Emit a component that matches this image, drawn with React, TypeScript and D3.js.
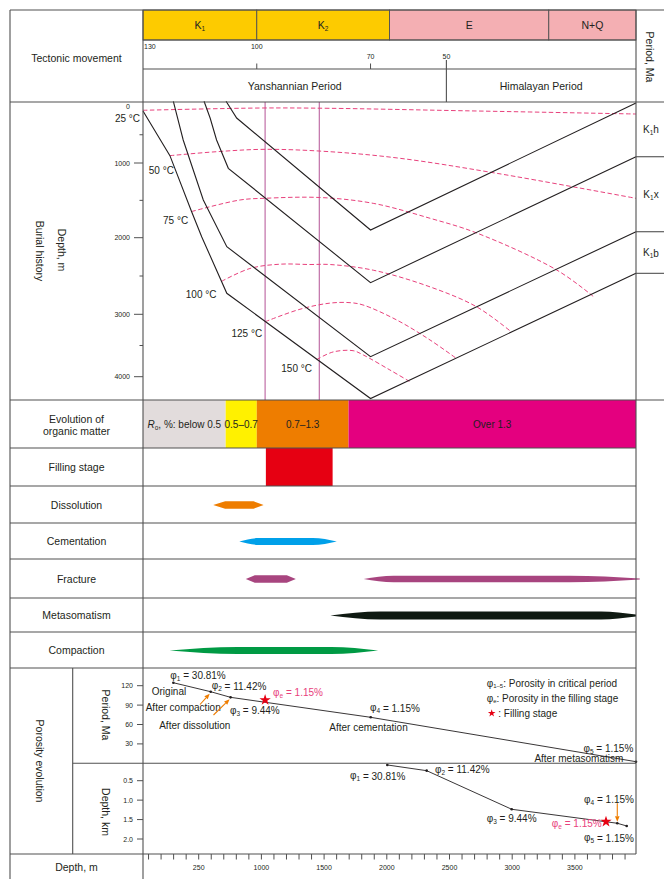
import React from "react";
import * as d3 from "d3";

// ---------------- data ----------------
// Geological periods on the top time bar (Ma)
const eraNames = ["K", "K", "E", "N+Q"];
const eraSubs = ["1", "2", "", ""];
const eraBounds = [130, 100, 65, 23, 0];
const eraColors = ["#fdcb00", "#fdcb00", "#f4afb3", "#f4afb3"];

const timeTicks = [130, 100, 70, 50];

const tectonicNames = ["Yanshannian Period", "Himalayan Period"];
const tectonicBounds = [130, 50, 0];

// Burial-history depth axis (m)
const depthMajorTicks = [0, 1000, 2000, 3000, 4000];
const depthMinorTicks = [500, 1500, 2500, 3500];

// Burial paths of formation boundaries: [age Ma, depth m]
const topK1h = [[108.1, -92], [105.3, 204], [70, 1897], [0, -62]];
const topK1x = [[113.9, -92], [112.3, 204], [110.6, 593], [107.5, 1071], [70, 2587], [0, 889]];
const topK1b = [[122, -92], [119.4, 593], [114.1, 1495], [107.9, 2117], [70, 3680], [0, 1920]];
const baseK1b = [[130, 80], [122.9, 870], [117.2, 1650], [114.5, 1990], [107.9, 2726], [70, 4350], [0, 2465]];
const burialLines = [topK1h, topK1x, topK1b, baseK1b];

const formationNames = ["h", "x", "b"];

// Isotherms: [age Ma, depth m]
const isoLabels = ["25 °C", "50 °C", "75 °C", "100 °C", "125 °C", "150 °C"];
const iso25 = [[130, 67], [99.2, 27], [80.7, 32], [49, 71], [28, 97], [0, 133]];
const iso50 = [[122.9, 870], [110.6, 800], [97.8, 758], [80.7, 800], [62.2, 917], [36.7, 1138], [0, 1473]];
const iso75 = [[117.2, 1650], [104.4, 1495], [97.8, 1472], [83.3, 1462], [69.3, 1540], [54.3, 1740], [42, 1937], [20.9, 2422], [11.3, 2765]];
const iso100 = [[109.3, 2570], [101.8, 2402], [93.9, 2346], [86, 2350], [80.7, 2350], [69.3, 2424], [54.3, 2642], [42, 2903], [32.8, 3285]];
const iso125 = [[97.8, 3119], [88.6, 2934], [80.7, 2854], [75.4, 2848], [72, 2878], [63.1, 3091], [54.3, 3412], [47.3, 3710]];
const iso150 = [[84.2, 3725], [79.9, 3604], [74.6, 3583], [71.9, 3652], [64.9, 3892], [59.6, 4080]];
const isotherms = [iso25, iso50, iso75, iso100, iso125, iso150];

// Hydrocarbon filling window (Ma)
const fillingLines = [97.8, 83.5];
const fillingStage = [97.6, 80];

// Vitrinite reflectance stages (Ma)
const roBounds = [130, 108.2, 100, 75.8, 0];
const roLabels = ["below 0.5", "0.5–0.7", "0.7–1.3", "Over 1.3"];
const roColors = ["#e2dcdc", "#fff100", "#ee7d00", "#e4007f"];

// Diagenetic processes (Ma)
const processRows = ["Dissolution", "Cementation", "Fracture", "Metasomatism", "Compaction"];
const processName = ["Dissolution", "Cementation", "Fracture", "Fracture", "Metasomatism", "Compaction"];
const processStart = [111.5, 104.6, 102.9, 71.8, 80.6, 123];
const processEnd = [98.2, 78.9, 89.7, -1, 0, 68];
const processColor = ["#ee7d00", "#00a0e9", "#a8457f", "#a8457f", "#0f1a12", "#009a44"];

// Porosity evolution
const phiSubs = ["1", "2", "3", "4", "5"];
const phiValues = [30.81, 11.42, 9.44, 1.15, 1.15];
const phiFillValue = 1.15;
const phiAge = [122.0, 112.15, 106.9, 69.95, 0];
const phiPeriod = [124.6, 110.7, 102, 71.1, 2.5];
const phiFillAge = 97.8;
const phiFillPeriod = 97.9;
const phiDepthM = [2004, 2318, 2996, 3838, 3913];
const phiDepthKm = [0.095, 0.242, 1.235, 1.595, 1.665];
const phiFillDepthM = 3748;
const phiFillDepthKm = 1.554;
const phiStageNames = ["Original", "After compaction", "After dissolution", "After cementation", "After metasomatism"];

const periodTicks = [30, 60, 90, 120];
const kmTicks = [0.5, 1.0, 1.5, 2.0];
const mTicks = d3.range(100, 4000, 100);
const mLabelValues = [500, 1000, 1500, 2000, 2500, 3000, 3500];
const mLabelTexts = ["250", "1000", "1500", "2000", "2500", "3000", "3500"];

// ---------------- layout ----------------
const W = 664;
const H = 879;
const FONT = "'Liberation Sans', Arial, Helvetica, sans-serif";
const INK = "#231f20";
const RULE = "#505050";
const PINK = "#e8417c";
const ORANGE = "#ee7d00";

const X_LEFT = 10;
const X_AXIS = 143;
const X_R = 636;
const X_INNER = 72.7;
const Y = {
  top: 10, era: 40, ticks: 69, head: 102, burial: 400, ro: 448, filling: 486,
  rows: [486, 523, 559, 598, 632, 668], phiMid: 763.3, phiBottom: 854,
};

const tScale = d3.scaleLinear().domain([130, 0]).range([X_AXIS, X_R]);
const dScale = d3.scaleLinear().domain([0, 1000, 2000, 3000, 4000]).range([106.5, 163, 237.7, 314.3, 376.7]);
const periodScale = d3.scaleLinear().domain([0, 120]).range([763.3, 685.7]);
const kmScale = d3.scaleLinear().domain([0.5, 2]).range([780.7, 839]);
const mScale = d3.scaleLinear().domain([0, 4000]).range([136, 637.6]);

// isotherm label placement relative to each curve's start (px)
const ISO_LABEL_OFFSET = [[-3, 8.4], [4, 15], [-3.4, 9.3], [-5, 12.7], [-3, 11.3], [-4.7, 8.7]];

// lens outline per process mark: height, left/right taper, end thickness
const LENS = [
  { h: 7.5, tl: 12, tr: 10, el: 0, er: 0, linear: true },
  { h: 7, tl: 20, tr: 24, el: 0, er: 0, linear: false },
  { h: 7.5, tl: 9, tr: 9, el: 0, er: 0, linear: true },
  { h: 6.5, tl: 30, tr: 70, el: 0, er: 1, linear: false },
  { h: 8, tl: 50, tr: 35, el: 0, er: 2, linear: false },
  { h: 7, tl: 68, tr: 47, el: 0, er: 0, linear: false },
];

function lensPath(x0: number, x1: number, cy: number, s: typeof LENS[number]) {
  const pts = [
    { x: x0, h: s.el },
    { x: x0 + s.tl, h: s.h },
    { x: x1 - s.tr, h: s.h },
    { x: x1, h: s.er },
  ];
  return d3
    .area<{ x: number; h: number }>()
    .x((d) => d.x)
    .y0((d) => cy - d.h / 2)
    .y1((d) => cy + d.h / 2)
    .curve(s.linear ? d3.curveLinear : d3.curveMonotoneX)(pts) as string;
}

function Phi({ x, y, sub, value, anchor = "start", color = INK }: any) {
  return (
    <text x={x} y={y} textAnchor={anchor} dominantBaseline="central" fontSize={10} fill={color}>
      φ<tspan fontSize={6.5} dy={2.5}>{sub}</tspan>
      <tspan dy={-2.5}>{` = ${value.toFixed(2)}%`}</tspan>
    </text>
  );
}

function Arrow({ x1, y1, x2, y2, color }: any) {
  const a = Math.atan2(y2 - y1, x2 - x1);
  const L = 5.5;
  const w = 2.3;
  const bx = x2 - L * Math.cos(a);
  const by = y2 - L * Math.sin(a);
  const pts = [
    [x2, y2],
    [bx + w * Math.sin(a), by - w * Math.cos(a)],
    [bx - w * Math.sin(a), by + w * Math.cos(a)],
  ];
  return (
    <g>
      <line x1={x1} y1={y1} x2={bx} y2={by} stroke={color} strokeWidth={1.1} />
      <polygon points={pts.map((p) => p.join(",")).join(" ")} fill={color} />
    </g>
  );
}

function Star({ x, y, size }: any) {
  const d = d3.symbol().type(d3.symbolStar).size(size)() as string;
  return <path d={d} transform={`translate(${x},${y})`} fill="#e60012" />;
}

function VText({ x, y, children, size = 10.5 }: any) {
  return (
    <text transform={`translate(${x},${y}) rotate(90)`} textAnchor="middle" dominantBaseline="central" fontSize={size}>
      {children}
    </text>
  );
}

export default function App() {
  const burialLine = d3.line<number[]>().x((d) => tScale(d[0])).y((d) => dScale(d[1]));
  const isoLine = d3
    .line<number[]>()
    .x((d) => tScale(d[0]))
    .y((d) => dScale(d[1]))
    .curve(d3.curveCatmullRom.alpha(0.5));

  const midLeft = (X_LEFT + X_AXIS) / 2;

  // porosity points in pixels
  const up = phiAge.map((a, i) => ({ x: tScale(a), y: periodScale(phiPeriod[i]) }));
  const upStar = { x: tScale(phiFillAge), y: periodScale(phiFillPeriod) };
  const lo = phiDepthM.map((m, i) => ({ x: mScale(m), y: kmScale(phiDepthKm[i]) }));
  const loStar = { x: mScale(phiFillDepthM), y: kmScale(phiFillDepthKm) };
  const upPath = d3.line<{ x: number; y: number }>().x((d) => d.x).y((d) => d.y)(up) as string;
  const loPath = d3.line<{ x: number; y: number }>().x((d) => d.x).y((d) => d.y)(lo) as string;

  const formationBounds = [Y.head, dScale(topK1x[topK1x.length - 1][1]), dScale(topK1b[topK1b.length - 1][1]), dScale(baseK1b[baseK1b.length - 1][1])];

  const hLine = (y: number, x1: number, x2: number, key: string) => (
    <line key={key} x1={x1} x2={x2} y1={y} y2={y} stroke={RULE} strokeWidth={1.1} />
  );
  const vLine = (x: number, y1: number, y2: number, key: string) => (
    <line key={key} x1={x} x2={x} y1={y1} y2={y2} stroke={RULE} strokeWidth={1.1} />
  );

  return (
    <svg
      width={W}
      height={H}
      viewBox={`0 0 ${W} ${H}`}
      style={{ position: "absolute", left: 0, top: 0, background: "#fff" }}
      fontFamily={FONT}
      fill={INK}
    >
      <rect x={0} y={0} width={W} height={H} fill="#fff" />

      {/* ---- header: periods ---- */}
      {eraNames.map((n, i) => {
        const x0 = tScale(eraBounds[i]);
        const x1 = tScale(eraBounds[i + 1]);
        return (
          <g key={`era${i}`}>
            <rect x={x0} y={Y.top} width={x1 - x0} height={Y.era - Y.top} fill={eraColors[i]} stroke={RULE} strokeWidth={0.9} />
            <text x={(x0 + x1) / 2} y={(Y.top + Y.era) / 2} textAnchor="middle" dominantBaseline="central" fontSize={10.5}>
              {n}
              {eraSubs[i] && (
                <tspan fontSize={6.5} dy={2.5}>
                  {eraSubs[i]}
                </tspan>
              )}
            </text>
          </g>
        );
      })}

      {/* time ticks */}
      {timeTicks.map((t) => {
        const x = tScale(t);
        const early = t >= 100;
        return (
          <g key={`tt${t}`}>
            {t !== 130 && t !== 50 && <line x1={x} x2={x} y1={Y.ticks - 5.5} y2={Y.ticks} stroke={RULE} strokeWidth={1} />}
            <text
              x={t === 130 ? x + 1 : x}
              y={early ? 46 : 56.5}
              textAnchor={t === 130 ? "start" : "middle"}
              dominantBaseline="central"
              fontSize={7}
            >
              {t}
            </text>
          </g>
        );
      })}

      {/* tectonic movements */}
      {tectonicNames.map((n, i) => {
        const x0 = tScale(tectonicBounds[i]);
        const x1 = tScale(tectonicBounds[i + 1]);
        return (
          <text key={n} x={(x0 + x1) / 2} y={86} textAnchor="middle" dominantBaseline="central" fontSize={10.5}>
            {n}
          </text>
        );
      })}
      {tectonicBounds.slice(1, -1).map((t) => vLine(tScale(t), 60, Y.head, `tb${t}`))}

      <text x={midLeft} y={58} textAnchor="middle" dominantBaseline="central" fontSize={10.5}>
        Tectonic movement
      </text>
      <VText x={650} y={57} size={10.5}>
        Period, Ma
      </VText>

      {/* ---- burial history ---- */}
      {fillingLines.map((t) => (
        <line key={`fl${t}`} x1={tScale(t)} x2={tScale(t)} y1={Y.head} y2={Y.burial} stroke="#c57aae" strokeWidth={1.3} />
      ))}
      {isotherms.map((pts, i) => (
        <path key={`iso${i}`} d={isoLine(pts) as string} fill="none" stroke={PINK} strokeWidth={1} strokeDasharray="4.5,2.5" />
      ))}
      {burialLines.map((pts, i) => (
        <path key={`bl${i}`} d={burialLine(pts) as string} fill="none" stroke={INK} strokeWidth={1.1} />
      ))}
      {isotherms.map((pts, i) => (
        <text
          key={`isl${i}`}
          x={tScale(pts[0][0]) + ISO_LABEL_OFFSET[i][0]}
          y={dScale(pts[0][1]) + ISO_LABEL_OFFSET[i][1]}
          textAnchor="end"
          dominantBaseline="central"
          fontSize={10}
        >
          {isoLabels[i]}
        </text>
      ))}

      {/* depth axis */}
      {depthMajorTicks.map((d) => (
        <g key={`dm${d}`}>
          {d !== 0 && <line x1={X_AXIS - 9} x2={X_AXIS} y1={dScale(d)} y2={dScale(d)} stroke={RULE} strokeWidth={1} />}
          <text x={130} y={dScale(d)} textAnchor="end" dominantBaseline="central" fontSize={7}>
            {d}
          </text>
        </g>
      ))}
      {depthMinorTicks.map((d) => (
        <line key={`dn${d}`} x1={X_AXIS - 3.5} x2={X_AXIS} y1={dScale(d)} y2={dScale(d)} stroke={RULE} strokeWidth={1} />
      ))}
      <VText x={62} y={250}>
        Depth, m
      </VText>
      <VText x={40} y={251}>
        Burial history
      </VText>

      {/* formation column */}
      {formationBounds.slice(1).map((y, i) => hLine(y, X_R, W, `fb${i}`))}
      {formationNames.map((n, i) => (
        <text
          key={`fn${n}`}
          x={651}
          y={(formationBounds[i] + formationBounds[i + 1]) / 2}
          textAnchor="middle"
          dominantBaseline="central"
          fontSize={10}
        >
          K<tspan fontSize={6.5} dy={2.5}>1</tspan>
          <tspan dy={-2.5}>{n}</tspan>
        </text>
      ))}

      {/* ---- organic matter ---- */}
      {roLabels.map((lab, i) => {
        const x0 = tScale(roBounds[i]);
        const x1 = tScale(roBounds[i + 1]);
        return <rect key={`ro${i}`} x={x0} y={Y.burial} width={x1 - x0} height={Y.ro - Y.burial} fill={roColors[i]} />;
      })}
      {roLabels.map((lab, i) => {
        const x0 = tScale(roBounds[i]);
        const x1 = tScale(roBounds[i + 1]);
        const cy = (Y.burial + Y.ro) / 2;
        if (i === 0) {
          return (
            <text key={`rot${i}`} x={(x0 + x1) / 2} y={cy} textAnchor="middle" dominantBaseline="central" fontSize={10}>
              <tspan fontStyle="italic">R</tspan>
              <tspan fontSize={6.5} dy={2.5}>o</tspan>
              <tspan dy={-2.5}>{`, %: ${lab}`}</tspan>
            </text>
          );
        }
        return (
          <text key={`rot${i}`} x={(x0 + x1) / 2} y={cy} textAnchor="middle" dominantBaseline="central" fontSize={10}>
            {lab}
          </text>
        );
      })}
      <text x={midLeft} y={418.5} textAnchor="middle" dominantBaseline="central" fontSize={10.5}>
        Evolution of
      </text>
      <text x={midLeft} y={430.5} textAnchor="middle" dominantBaseline="central" fontSize={10.5}>
        organic matter
      </text>

      {/* ---- filling stage ---- */}
      <rect
        x={tScale(fillingStage[0])}
        y={Y.ro}
        width={tScale(fillingStage[1]) - tScale(fillingStage[0])}
        height={Y.filling - Y.ro}
        fill="#e60012"
      />
      <text x={midLeft} y={(Y.ro + Y.filling) / 2} textAnchor="middle" dominantBaseline="central" fontSize={10.5}>
        Filling stage
      </text>

      {/* ---- diagenetic processes ---- */}
      {processRows.map((n, r) => (
        <text
          key={`pr${n}`}
          x={midLeft}
          y={(Y.rows[r] + Y.rows[r + 1]) / 2}
          textAnchor="middle"
          dominantBaseline="central"
          fontSize={10.5}
        >
          {n}
        </text>
      ))}
      {processName.map((n, i) => {
        const r = processRows.indexOf(n);
        const cy = (Y.rows[r] + Y.rows[r + 1]) / 2 + 0.5;
        return (
          <path key={`lens${i}`} d={lensPath(tScale(processStart[i]), tScale(processEnd[i]), cy, LENS[i])} fill={processColor[i]} />
        );
      })}

      {/* ---- porosity evolution ---- */}
      <VText x={40} y={761}>
        Porosity evolution
      </VText>
      <VText x={106} y={715}>
        Period, Ma
      </VText>
      <VText x={106} y={812}>
        Depth, km
      </VText>
      {periodTicks.map((p) => (
        <g key={`pt${p}`}>
          <line x1={X_AXIS - 6} x2={X_AXIS} y1={periodScale(p)} y2={periodScale(p)} stroke={RULE} strokeWidth={1} />
          <text x={133} y={periodScale(p)} textAnchor="end" dominantBaseline="central" fontSize={7}>
            {p}
          </text>
        </g>
      ))}
      {kmTicks.map((k) => (
        <g key={`kt${k}`}>
          <line x1={X_AXIS - 6} x2={X_AXIS} y1={kmScale(k)} y2={kmScale(k)} stroke={RULE} strokeWidth={1} />
          <text x={133} y={kmScale(k)} textAnchor="end" dominantBaseline="central" fontSize={7}>
            {k.toFixed(1)}
          </text>
        </g>
      ))}

      {/* upper: porosity vs period */}
      <path d={upPath} fill="none" stroke={INK} strokeWidth={0.9} />
      {up.map((p, i) => (
        <circle key={`up${i}`} cx={p.x} cy={p.y} r={1.3} fill={INK} />
      ))}
      <Star x={upStar.x} y={upStar.y} size={40} />
      <Phi x={up[0].x - 3} y={up[0].y - 7.5} sub={phiSubs[0]} value={phiValues[0]} />
      <text x={up[0].x - 21.6} y={up[0].y + 9} dominantBaseline="central" fontSize={10}>
        {phiStageNames[0]}
      </text>
      <Phi x={up[1].x + 1} y={up[1].y - 6} sub={phiSubs[1]} value={phiValues[1]} />
      <text x={up[1].x - 65} y={up[1].y + 15.6} dominantBaseline="central" fontSize={10}>
        {phiStageNames[1]}
      </text>
      <Phi x={up[2].x - 0.7} y={up[2].y + 12.7} sub={phiSubs[2]} value={phiValues[2]} />
      <text x={up[2].x - 71.4} y={up[2].y + 28.4} dominantBaseline="central" fontSize={10}>
        {phiStageNames[2]}
      </text>
      <Arrow x1={200} y1={704.5} x2={up[1].x - 1} y2={up[1].y + 2} color={ORANGE} />
      <Arrow x1={213.5} y1={715} x2={up[2].x - 1} y2={up[2].y + 2} color={ORANGE} />
      <Phi x={upStar.x + 8} y={upStar.y - 7.7} sub="e" value={phiFillValue} color={PINK} />
      <Phi x={up[3].x - 0.7} y={up[3].y - 9.6} sub={phiSubs[3]} value={phiValues[3]} />
      <text x={up[3].x - 41.4} y={up[3].y + 10.4} dominantBaseline="central" fontSize={10}>
        {phiStageNames[3]}
      </text>
      <Phi x={up[4].x - 2.7} y={up[4].y - 13.4} sub={phiSubs[4]} value={phiValues[4]} anchor="end" />
      <text x={up[4].x - 12.7} y={up[4].y - 3.4} textAnchor="end" dominantBaseline="central" fontSize={10}>
        {phiStageNames[4]}
      </text>

      {/* legend */}
      <text x={486.7} y={683.3} dominantBaseline="central" fontSize={10}>
        φ<tspan fontSize={6} dy={2.5}>1–5</tspan>
        <tspan dy={-2.5}>: Porosity in critical period</tspan>
      </text>
      <text x={486.7} y={698.3} dominantBaseline="central" fontSize={10}>
        φ<tspan fontSize={6} dy={2.5}>e</tspan>
        <tspan dy={-2.5}>: Porosity in the filling stage</tspan>
      </text>
      <Star x={491.7} y={713.3} size={18} />
      <text x={498.3} y={713.3} dominantBaseline="central" fontSize={10}>
        : Filling stage
      </text>

      {/* lower: porosity vs depth */}
      <path d={loPath} fill="none" stroke={INK} strokeWidth={0.9} />
      {lo.map((p, i) => (
        <circle key={`lo${i}`} cx={p.x} cy={p.y} r={1.3} fill={INK} />
      ))}
      <Star x={loStar.x} y={loStar.y} size={40} />
      <Phi x={lo[0].x - 37.3} y={lo[0].y + 11} sub={phiSubs[0]} value={phiValues[0]} />
      <Phi x={lo[1].x + 8.3} y={lo[1].y - 1.4} sub={phiSubs[1]} value={phiValues[1]} />
      <Phi x={lo[2].x - 25} y={lo[2].y + 9} sub={phiSubs[2]} value={phiValues[2]} />
      <Phi x={loStar.x - 4.3} y={loStar.y + 1.6} sub="e" value={phiFillValue} anchor="end" color={PINK} />
      <Phi x={lo[3].x + 16.7} y={lo[3].y - 24} sub={phiSubs[3]} value={phiValues[3]} anchor="end" />
      <Arrow x1={lo[3].x} y1={lo[3].y - 20} x2={lo[3].x} y2={lo[3].y - 1.6} color={ORANGE} />
      <Phi x={lo[4].x + 7.3} y={lo[4].y + 11.7} sub={phiSubs[4]} value={phiValues[4]} anchor="end" />

      {/* bottom depth axis */}
      {mTicks.map((m) => (
        <line key={`mt${m}`} x1={mScale(m)} x2={mScale(m)} y1={Y.phiBottom} y2={Y.phiBottom + 5.5} stroke={RULE} strokeWidth={1} />
      ))}
      {mLabelValues.map((m, i) => (
        <text key={`ml${m}`} x={mScale(m)} y={867.5} textAnchor="middle" dominantBaseline="central" fontSize={7}>
          {mLabelTexts[i]}
        </text>
      ))}
      <text x={midLeft} y={867} textAnchor="middle" dominantBaseline="central" fontSize={10.5}>
        Depth, m
      </text>

      {/* ---- frame ---- */}
      {hLine(Y.top, X_LEFT, W, "h-top")}
      {hLine(Y.era, X_AXIS, X_R, "h-era")}
      {hLine(Y.ticks, X_AXIS, X_R, "h-ticks")}
      {hLine(Y.head, X_LEFT, W, "h-head")}
      {hLine(Y.burial, X_LEFT, W, "h-burial")}
      {hLine(Y.ro, X_LEFT, X_R, "h-ro")}
      {Y.rows.map((y, i) => hLine(y, X_LEFT, X_R, `h-row${i}`))}
      {hLine(Y.phiMid, X_INNER, X_R, "h-mid")}
      {hLine(Y.phiBottom, X_LEFT, X_R, "h-bottom")}
      {vLine(X_LEFT, Y.top, H, "v-left")}
      {vLine(X_AXIS, Y.top, H, "v-axis")}
      {vLine(X_R, Y.top, Y.phiBottom, "v-right")}
      {vLine(X_INNER, Y.rows[5], Y.phiBottom, "v-inner")}
    </svg>
  );
}
